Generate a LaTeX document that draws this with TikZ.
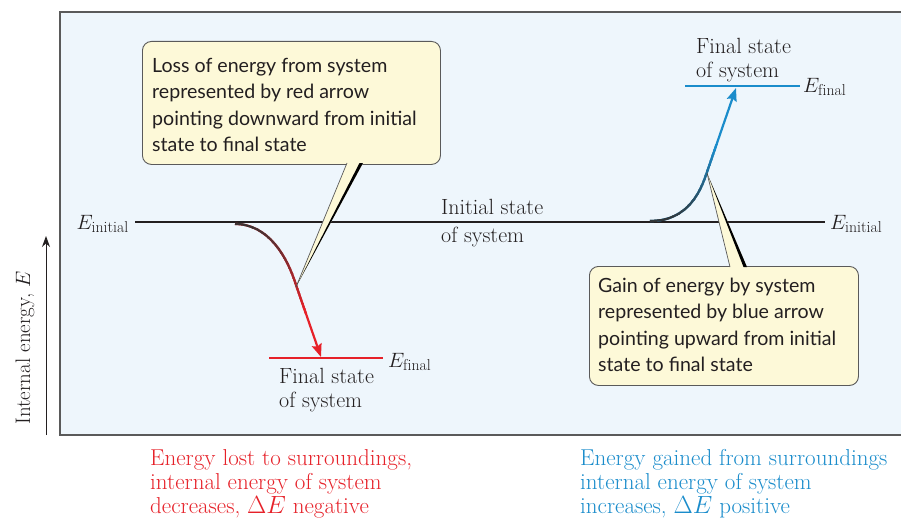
\documentclass[tikz,border=0pt]{standalone}
\usepackage{fontspec}
\newfontfamily\callfont{Lato}
\usetikzlibrary{arrows.meta}
\definecolor{panel}{HTML}{EEF6FC}
\definecolor{frameg}{HTML}{5A5A5A}
\definecolor{lossred}{HTML}{E62129}
\definecolor{gainblue}{HTML}{1A8CCB}
\definecolor{calloutfill}{HTML}{FDF9D8}
\definecolor{inkc}{HTML}{231F20}
\definecolor{darkc}{HTML}{333333}
\tikzset{
  seriflab/.style={font=\fontsize{22}{28}\selectfont, text=inkc, inner sep=0pt, anchor=base west},
  sidelab/.style={font=\fontsize{22.5}{24}\selectfont, text=inkc, inner sep=0pt},
  calltext/.style={font=\callfont\fontsize{19.6}{26.6}\selectfont, text=inkc, inner sep=0pt, anchor=base west},
  callbox/.style={draw=frameg, line width=0.9pt, fill=calloutfill, rounded corners=9pt},
  pointerfill/.style={fill=calloutfill},
  levelline/.style={line width=1.6pt},
  botlab/.style={font=\fontsize{23}{24}\selectfont, inner sep=0pt, anchor=base west},
  energyarrow/.style={line width=2.2pt, -{Stealth[length=13pt,width=10pt,inset=2pt]}},
}
\begin{document}
\begin{tikzpicture}[x=1pt,y=-1pt]
\useasboundingbox (0,0) rectangle (901,519);
% panel
\fill[panel] (60,12) rectangle (901,435);
\draw[frameg, line width=1.6pt] (905,12) -- (60,12) -- (60,435) -- (905,435);

% axis
\coordinate (axb) at (46,435);
\coordinate (axt) at (46,236);
\draw[inkc, line width=1pt, -{Stealth[length=11pt,width=8pt]}] (axb) -- (axt);
\node[rotate=90, font=\fontsize{21}{24}\selectfont, text=inkc, inner sep=0pt] (axlab) at (25,348) {Internal energy, $E$};

% initial level
\coordinate (il) at (135,222);
\coordinate (ir) at (825,222);
\draw[inkc, levelline] (il) -- (ir);
\node[sidelab, anchor=base east] (eil) at (129,229) {$E_{\mathrm{initial}}$};
\node[sidelab, anchor=base west] (eir) at (830,229) {$E_{\mathrm{initial}}$};
\node[seriflab] (ist) at (441,214) {Initial state};
\node[seriflab] (isy) at (441,242) {of system};

% red final level
\coordinate (rfl) at (269,358);
\coordinate (rfr) at (383,358);
\draw[lossred, levelline] (rfl) -- (rfr);
\node[sidelab, anchor=base west] (efr) at (388,367) {$E_{\mathrm{final}}$};
\node[seriflab] (fsr) at (279,383) {Final state};
\node[seriflab] (fsyr) at (279,407) {of system};

% blue final level
\coordinate (bfl) at (685,86);
\coordinate (bfr) at (800,86);
\draw[gainblue, levelline] (bfl) -- (bfr);
\node[sidelab, anchor=base west] (efb) at (803,92) {$E_{\mathrm{final}}$};
\node[seriflab] (fsb) at (696,53) {Final state};
\node[seriflab] (fsyb) at (696,77) {of system};

% red arrow with gradient
\coordinate (rs) at (235,224);
\coordinate (rm) at (296,285);
\coordinate (rt) at (321,357);
\draw[lossred, energyarrow] (rs) .. controls (268,224) and (287,256) .. (rm) -- (rt);
\foreach \i in {0,...,18}{
  \pgfmathsetmacro\ya{218+\i*5}
  \pgfmathsetmacro\yb{\ya+5.5}
  \pgfmathtruncatemacro\pc{\i*100/18}
  \begin{scope}
    \clip (200,\ya) rectangle (340,\yb);
    \draw[lossred!\pc!darkc, line width=2.2pt] (rs) .. controls (268,224) and (287,256) .. (rm) -- (rt);
  \end{scope}
}

% blue arrow with gradient
\coordinate (bs) at (650,221);
\coordinate (bm) at (707,172);
\coordinate (bt) at (736,88);
\draw[gainblue, energyarrow] (bs) .. controls (689,221) and (701,190) .. (bm) -- (bt);
\foreach \i in {0,...,15}{
  \pgfmathsetmacro\yb{225-\i*5}
  \pgfmathsetmacro\ya{\yb-5.5}
  \pgfmathtruncatemacro\pc{\i*100/15}
  \begin{scope}
    \clip (630,\ya) rectangle (760,\yb);
    \draw[gainblue!\pc!darkc, line width=2.2pt] (bs) .. controls (689,221) and (701,190) .. (bm) -- (bt);
  \end{scope}
}

% callout 1
\node[callbox, minimum width=298pt, minimum height=123pt, anchor=north west] (c1) at (142,41) {};
\node[calltext] (c1l1) at (152,72) {Loss of energy from system};
\node[calltext] (c1l2) at (152,98.5) {represented by red arrow};
\node[calltext] (c1l3) at (152,125) {pointing downward from initial};
\node[calltext] (c1l4) at (152,151) {state to final state};
\coordinate (p1a) at (347,163);
\coordinate (p1b) at (363,163);
\coordinate (p1c) at (359.5,163);
\coordinate (p1t) at (296,287);
\fill[pointerfill] (p1a) -- (p1t) -- (p1b) -- cycle;
\draw[frameg, line width=0.7pt] (p1a) -- (p1t);
\fill[black] (p1t) -- (p1b) -- (p1c) -- cycle;

% callout 2
\node[callbox, minimum width=269pt, minimum height=119pt, anchor=north west] (c2) at (589,266) {};
\node[calltext] (c2l1) at (598,292) {Gain of energy by system};
\node[calltext] (c2l2) at (598,318.5) {represented by blue arrow};
\node[calltext] (c2l3) at (598,345) {pointing upward from initial};
\node[calltext] (c2l4) at (598,371.5) {state to final state};
\coordinate (p2a) at (730,267);
\coordinate (p2b) at (747,267);
\coordinate (p2c) at (743.5,267);
\coordinate (p2t) at (707,173);
\fill[pointerfill] (p2a) -- (p2t) -- (p2b) -- cycle;
\draw[frameg, line width=0.7pt] (p2a) -- (p2t);
\fill[black] (p2t) -- (p2b) -- (p2c) -- cycle;

% bottom labels
\node[botlab, text=lossred] (bl1) at (150,465) {Energy lost to surroundings,};
\node[botlab, text=lossred] (bl2) at (150,489) {internal energy of system};
\node[botlab, text=lossred] (bl3) at (150,513) {decreases, $\Delta E$ negative};
\node[botlab, text=gainblue] (br1) at (580,465) {Energy gained from surroundings};
\node[botlab, text=gainblue] (br2) at (580,489) {internal energy of system};
\node[botlab, text=gainblue] (br3) at (580,513) {increases, $\Delta E$ positive};
\end{tikzpicture}
\end{document}
